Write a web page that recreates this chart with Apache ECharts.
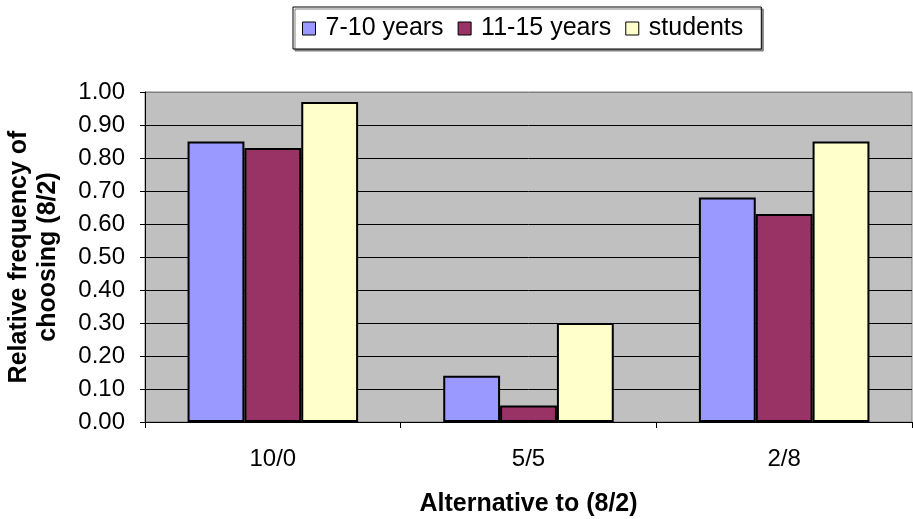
<!DOCTYPE html>
<html>
<head>
<meta charset="utf-8">
<script src="https://cdn.jsdelivr.net/npm/echarts@6/dist/echarts.min.js"></script>
<style>
  html, body { margin: 0; padding: 0; background: #ffffff; }
  #chart { width: 913px; height: 519px; }
</style>
</head>
<body>
<div id="chart"></div>
<script>
// Choice alternatives shown along the category axis
var categories = ['10/0', '5/5', '2/8'];

// Relative frequency of choosing (8/2), per group
var age7to10 = [0.85, 0.14, 0.68];
var age11to15 = [0.83, 0.05, 0.63];
var students = [0.97, 0.30, 0.85];

var seriesNames = ['7-10 years', '11-15 years', 'students'];
var seriesColors = ['#9999FF', '#993366', '#FFFFCC'];

// Value axis range and step
var yMin = 0;
var yMax = 1;
var yStep = 0.1;

var FONT = '"Liberation Sans", Arial, sans-serif';

var chart = echarts.init(document.getElementById('chart'), null, { renderer: 'canvas' });

function barSeries(name, data, color) {
  return {
    name: name,
    type: 'bar',
    data: data,
    barGap: '0%',
    barCategoryGap: '33.3%',
    itemStyle: { color: color, borderColor: '#000000', borderWidth: 2 },
    animation: false
  };
}

// grid lines: black inside, grey where the frame's top edge sits
var nSteps = Math.round((yMax - yMin) / yStep);
var splitColors = [];
for (var i = 0; i <= nSteps; i++) {
  splitColors.push(i === nSteps ? '#808080' : '#000000');
}

chart.setOption({
  animation: false,
  backgroundColor: '#ffffff',
  textStyle: { fontFamily: FONT },
  legend: {
    data: seriesNames,
    left: 293,
    top: 7,
    orient: 'horizontal',
    padding: [9, 18, 8, 9],
    itemGap: 14,
    itemWidth: 13,
    itemHeight: 13,
    icon: 'rect',
    itemStyle: { borderColor: '#000000', borderWidth: 1 },
    backgroundColor: '#ffffff',
    borderColor: '#000000',
    borderWidth: 1,
    shadowColor: '#808080',
    shadowOffsetX: 2,
    shadowOffsetY: 2,
    shadowBlur: 0,
    textStyle: { fontFamily: FONT, fontSize: 25, color: '#000000', padding: [0, 0, 0, 5] }
  },
  grid: {
    left: 145,
    right: 1,
    top: 92,
    bottom: 97,
    show: true,
    backgroundColor: '#C0C0C0',
    borderColor: '#808080',
    borderWidth: 1,
    containLabel: false,
    outerBoundsMode: 'none'
  },
  xAxis: {
    type: 'category',
    data: categories,
    name: 'Alternative to (8/2)',
    nameLocation: 'middle',
    nameGap: 70,
    nameTextStyle: { fontFamily: FONT, fontSize: 25, fontWeight: 'bold', color: '#000000' },
    axisLine: { show: true, lineStyle: { color: '#000000', width: 1 } },
    axisTick: { show: true, length: 6, inside: false, lineStyle: { color: '#000000' } },
    axisLabel: { fontFamily: FONT, fontSize: 24, color: '#000000', margin: 25 },
    splitLine: { show: false }
  },
  yAxis: {
    type: 'value',
    min: yMin,
    max: yMax,
    interval: yStep,
    name: 'Relative frequency of\nchoosing (8/2)',
    nameLocation: 'middle',
    nameRotate: 90,
    nameGap: 82,
    nameTextStyle: { fontFamily: FONT, fontSize: 25, fontWeight: 'bold', color: '#000000', lineHeight: 29, align: 'center' },
    axisLine: { show: true, lineStyle: { color: '#000000', width: 1 } },
    axisTick: { show: true, length: 5, inside: false, lineStyle: { color: '#000000' } },
    axisLabel: {
      fontFamily: FONT, fontSize: 24, color: '#000000', margin: 20,
      formatter: function (v) { return v.toFixed(2); }
    },
    splitLine: { show: true, lineStyle: { color: splitColors, width: 1 } }
  },
  series: [
    barSeries(seriesNames[0], age7to10, seriesColors[0]),
    barSeries(seriesNames[1], age11to15, seriesColors[1]),
    barSeries(seriesNames[2], students, seriesColors[2])
  ]
});
</script>
</body>
</html>
